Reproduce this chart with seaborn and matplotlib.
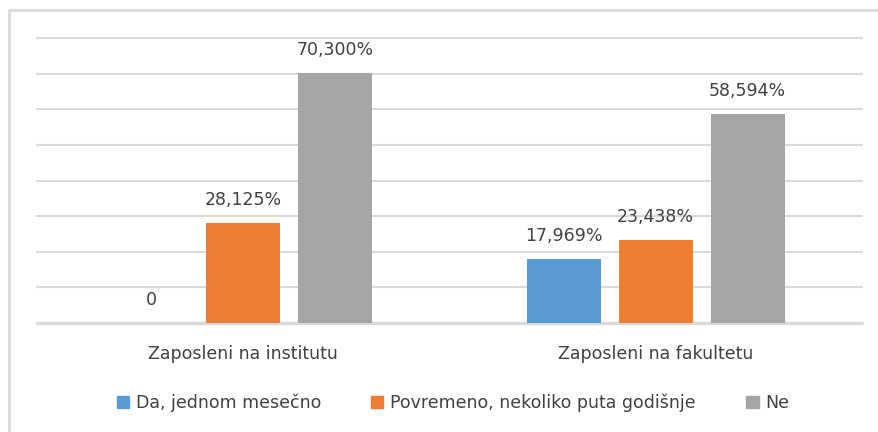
import matplotlib.pyplot as plt
import matplotlib.patches as mpatches
import seaborn as sns
import pandas as pd

# values
groups = ['Zaposleni na institutu', 'Zaposleni na fakultetu']
series = ['Da, jednom mesečno', 'Povremeno, nekoliko puta godišnje', 'Ne']
values = {
    'Da, jednom mesečno': [0, 17.969],
    'Povremeno, nekoliko puta godišnje': [28.125, 23.438],
    'Ne': [70.300, 58.594],
}
labels = {
    'Da, jednom mesečno': ['0', '17,969%'],
    'Povremeno, nekoliko puta godišnje': ['28,125%', '23,438%'],
    'Ne': ['70,300%', '58,594%'],
}
colors = ['#5B9BD5', '#ED7D31', '#A5A5A5']

rows = []
for s in series:
    for g, v in zip(groups, values[s]):
        rows.append({'group': g, 'series': s, 'value': v})
df = pd.DataFrame(rows)

sns.set_style('white')
plt.rcParams['font.family'] = ['DejaVu Sans']
text_color = '#404040'
fs = 12.5

W, H = 879, 432
fig = plt.figure(figsize=(W / 100, H / 100), dpi=100)
ax = fig.add_axes([37 / W, (H - 323) / H, (862 - 37) / W, (323 - 38) / H])

sns.barplot(data=df, x='group', y='value', hue='series', hue_order=series,
            palette=colors, width=0.669, gap=0.2, saturation=1,
            linewidth=0, legend=False, ax=ax)

for container, s in zip(ax.containers, series):
    ax.bar_label(container, labels=labels[s], padding=10,
                 fontsize=fs, color=text_color)

ax.set_ylim(0, 80)
ax.set_xlim(-0.5, 1.5)
# horizontal gridlines, drawn by hand so the top and bottom ones are not clipped
for yv in range(10, 81, 10):
    ax.axhline(yv, color='#d9d9d9', linewidth=1.5, zorder=0, clip_on=False)
ax.axhline(0, color='#d9d9d9', linewidth=2.5, zorder=0, clip_on=False)
ax.set_yticks([])
for sp in ax.spines.values():
    sp.set_visible(False)
ax.tick_params(axis='both', length=0)
ax.tick_params(axis='x', pad=16, labelsize=fs, labelcolor=text_color)
ax.set_xlabel('')
ax.set_ylabel('')

handles = [mpatches.Patch(color=c, label=s) for c, s in zip(colors, series)]
fig.legend(handles=handles, loc='center', bbox_to_anchor=(453 / W, 1 - 403 / H),
           ncol=3, frameon=False, fontsize=fs, labelcolor=text_color,
           handlelength=0.7, handleheight=0.7, handletextpad=0.4,
           columnspacing=2.9)

# outer chart border
fig.patches.append(mpatches.Rectangle((9 / W, -0.1), 1.2, (H - 10) / H + 0.1,
                                      transform=fig.transFigure, fill=False,
                                      edgecolor='#d9d9d9', linewidth=2))

fig.savefig('out.png', dpi=100)
